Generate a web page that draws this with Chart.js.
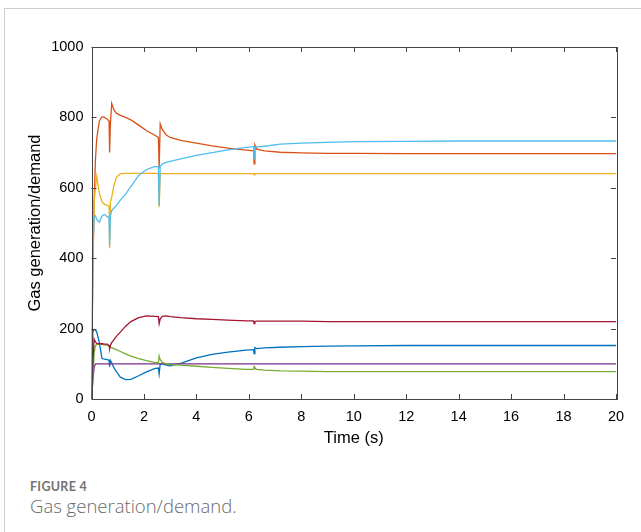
<!DOCTYPE html>
<html>
<head>
<meta charset="utf-8">
<script src="https://cdn.jsdelivr.net/npm/chart.js@4/dist/chart.umd.min.js"></script>
<style>
  html, body { margin: 0; padding: 0; background: #fff; }
  #wrap { position: relative; width: 641px; height: 532px; overflow: hidden; }
  #frame { position: absolute; left: 4px; top: 8px; width: 660px; height: 600px; border-left: 1px solid #cfcfcf; border-top: 1px solid #cfcfcf; }
  #cbox { position: absolute; left: 0; top: 0; width: 641px; height: 459px; }
  #fig { position: absolute; left: 30px; top: 479px; font-family: Lato, "Open Sans", sans-serif; font-size: 12.5px; font-weight: 700; color: #737373; letter-spacing: 0.3px; white-space: nowrap; }
  #cap { position: absolute; left: 30px; top: 493px; font-family: "Open Sans", sans-serif; font-size: 18.5px; font-weight: 300; color: #6a6a6a; white-space: nowrap; }
</style>
</head>
<body>
<div id="wrap">
  <div id="frame"></div>
  <div id="cbox"><canvas id="c"></canvas></div>
  <div id="fig">FIGURE 4</div>
  <div id="cap">Gas generation/demand.</div>
</div>
<script>
const times = [0,0.05,0.1,0.15,0.2,0.3,0.4,0.5,0.6,0.67,0.69,0.72,0.77,0.85,0.95,1.1,1.3,1.5,1.8,2.1,2.4,2.55,2.58,2.62,2.7,2.85,3.0,3.4,4.0,4.6,5.2,5.9,6.18,6.2,6.23,6.3,6.6,7.2,8,9,10,12,14,16,18,20];
const blueVals = [0,190,198,196,190,160,115,113,112,110,92,110,103,90,78,62,55,56,66,77,86,88,71,100,100,96,94,101,117,127,133,139,140,129,146,143,145,147,149,150,151,152,152,152,152,152];
const orangeVals = [0,350,560,680,740,790,802,800,795,790,700,780,840,822,812,806,800,793,778,762,750,743,655,782,765,750,743,735,727,719,713,707,705,668,722,710,705,701,699,698,698,697,697,697,697,697];
const yellowVals = [0,380,560,600,632,585,560,553,550,548,428,560,573,605,630,640,641,641,641,641,641,641,545,640,640,640,640,640,640,640,640,640,640,637,640,640,640,640,640,640,640,640,640,640,640,640];
const purpleVals = [0,50,90,100,100,100,100,100,100,100,100,100,100,100,100,100,100,100,100,100,100,100,100,100,100,100,100,100,100,100,100,100,100,100,100,100,100,100,100,100,100,100,100,100,100,100];
const greenVals = [0,60,130,152,155,155,155,154,153,150,148,147,146,143,140,135,128,122,115,109,104,103,122,112,104,100,98,96,93,90,87,84,84,92,88,84,82,80,79,78,78,78,78,78,78,78];
const lightBlueVals = [0,420,515,520,510,502,520,524,518,515,436,520,535,542,550,565,582,603,635,652,660,660,550,660,668,672,675,682,692,700,708,715,717,683,716,716,718,724,727,729,731,732,733,733,733,733];
const darkRedVals = [0,100,170,162,158,157,157,156,156,152,143,152,160,168,178,190,207,220,231,236,235,234,214,228,235,236,234,231,228,226,224,222,222,214,220,221,221,221,221,220,220,220,220,220,220,220];

const seriesList = [
  { vals: blueVals, color: '#0072BD' },
  { vals: orangeVals, color: '#D95319' },
  { vals: yellowVals, color: '#EDB120' },
  { vals: purpleVals, color: '#7E2F8E' },
  { vals: greenVals, color: '#77AC30' },
  { vals: lightBlueVals, color: '#4DBEEE' },
  { vals: darkRedVals, color: '#A2142F' }
];
const xTickMax = 20, xStep = 2, yTickMax = 1000, yStep = 200;

const datasets = seriesList.map((s, i) => ({
  data: times.map((t, k) => ({ x: t, y: s.vals[k] })),
  borderColor: s.color,
  borderWidth: 1.3,
  pointRadius: 0,
  tension: 0,
  fill: false,
  order: seriesList.length - i
}));

const boxPlugin = {
  id: 'boxTicks',
  afterDraw(chart) {
    const { ctx, chartArea: a, scales } = chart;
    ctx.save();
    ctx.strokeStyle = '#444';
    ctx.lineWidth = 1;
    ctx.strokeRect(Math.round(a.left) + 0.5, Math.round(a.top) + 0.5, Math.round(a.right - a.left), Math.round(a.bottom - a.top));
    const L = 5;
    ctx.beginPath();
    scales.x.ticks.forEach(t => {
      const px = Math.round(scales.x.getPixelForValue(t.value)) + 0.5;
      ctx.moveTo(px, a.bottom); ctx.lineTo(px, a.bottom - L);
      ctx.moveTo(px, a.top); ctx.lineTo(px, a.top + L);
    });
    scales.y.ticks.forEach(t => {
      const py = Math.round(scales.y.getPixelForValue(t.value)) + 0.5;
      ctx.moveTo(a.left, py); ctx.lineTo(a.left + L, py);
      ctx.moveTo(a.right, py); ctx.lineTo(a.right - L, py);
    });
    ctx.stroke();
    ctx.restore();
  }
};

const tickFont = { family: '"Liberation Sans", Arial, sans-serif', size: 14.5 };
const titleFont = { family: '"Liberation Sans", Arial, sans-serif', size: 16.5 };

new Chart(document.getElementById('c'), {
  type: 'line',
  data: { datasets },
  options: {
    responsive: true,
    maintainAspectRatio: false,
    animation: false,
    events: [],
    layout: { padding: { top: 47, right: 25, left: 0, bottom: 0 } },
    plugins: { legend: { display: false }, tooltip: { enabled: false } },
    scales: {
      x: {
        type: 'linear', min: 0, max: xTickMax,
        border: { display: false },
        grid: { display: false, drawTicks: false },
        ticks: { stepSize: xStep, padding: 9, color: '#000', maxRotation: 0, font: tickFont, callback: v => String(v) },
        title: { display: true, text: 'Time (s)', color: '#000', font: titleFont, padding: { top: 0, bottom: 11 } },
        afterFit(scale) { scale.height = 60; }
      },
      y: {
        type: 'linear', min: 0, max: yTickMax,
        border: { display: false },
        grid: { display: false, drawTicks: false },
        ticks: { stepSize: yStep, padding: 8, color: '#000', font: tickFont, callback: v => String(v) },
        title: { display: true, text: 'Gas generation/demand', color: '#000', font: titleFont, padding: { top: 26, bottom: 0 } },
        afterFit(scale) { scale.width = 91.5; }
      }
    }
  },
  plugins: [boxPlugin]
});
</script>
</body>
</html>
